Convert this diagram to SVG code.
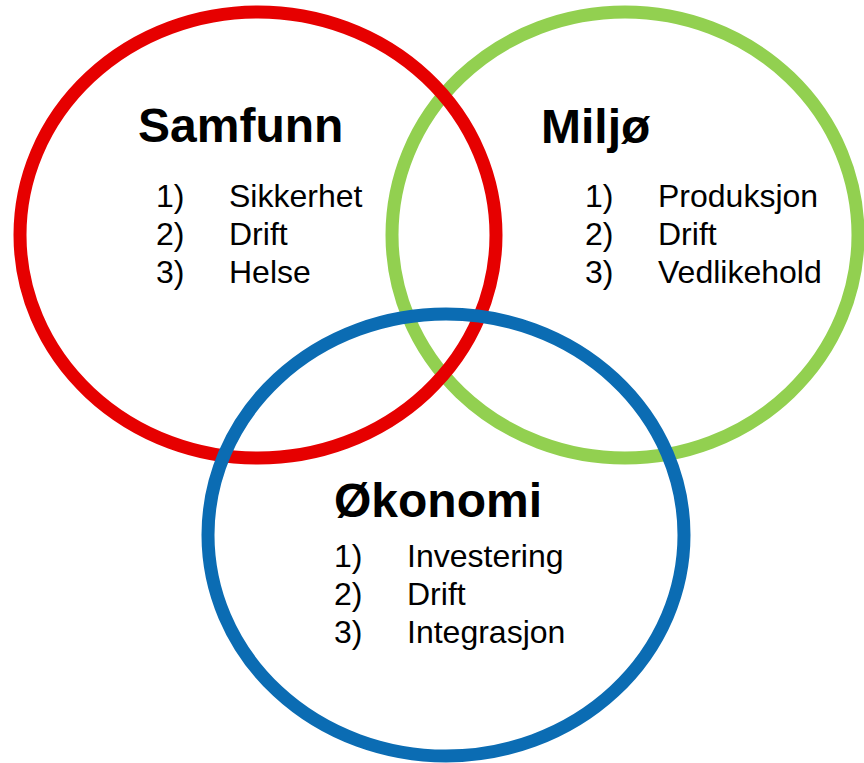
<svg xmlns="http://www.w3.org/2000/svg" width="864" height="763" viewBox="0 0 864 763">
<style>
.ring{fill:none;stroke-width:13}
.h{font-family:"Liberation Sans",Arial,sans-serif;font-weight:bold;font-size:48px;fill:#000}
.t{font-family:"Liberation Sans",Arial,sans-serif;font-size:32px;fill:#000}
</style>
<rect width="864" height="763" fill="#fff"/>
<g id="miljo">
<ellipse class="ring" cx="625" cy="235" rx="233" ry="223" stroke="#92D050"/>
<text class="h" x="541" y="143">Miljø</text>
<text class="t" x="585" y="207">1)</text><text class="t" x="658" y="207">Produksjon</text>
<text class="t" x="585" y="245">2)</text><text class="t" x="658" y="245">Drift</text>
<text class="t" x="585" y="283">3)</text><text class="t" x="658" y="283">Vedlikehold</text>
</g>
<g id="samfunn">
<ellipse class="ring" cx="258" cy="235" rx="238" ry="223" stroke="#E60000"/>
<text class="h" x="138" y="142">Samfunn</text>
<text class="t" x="156" y="207">1)</text><text class="t" x="229" y="207">Sikkerhet</text>
<text class="t" x="156" y="245">2)</text><text class="t" x="229" y="245">Drift</text>
<text class="t" x="156" y="283">3)</text><text class="t" x="229" y="283">Helse</text>
</g>
<g id="okonomi">
<ellipse class="ring" cx="446" cy="535" rx="238" ry="221" stroke="#0B6CB3"/>
<text class="h" x="334" y="517">Økonomi</text>
<text class="t" x="334" y="567">1)</text><text class="t" x="407" y="567">Investering</text>
<text class="t" x="334" y="605">2)</text><text class="t" x="407" y="605">Drift</text>
<text class="t" x="334" y="643">3)</text><text class="t" x="407" y="643">Integrasjon</text>
</g>
<g id="connectors"/>
</svg>
